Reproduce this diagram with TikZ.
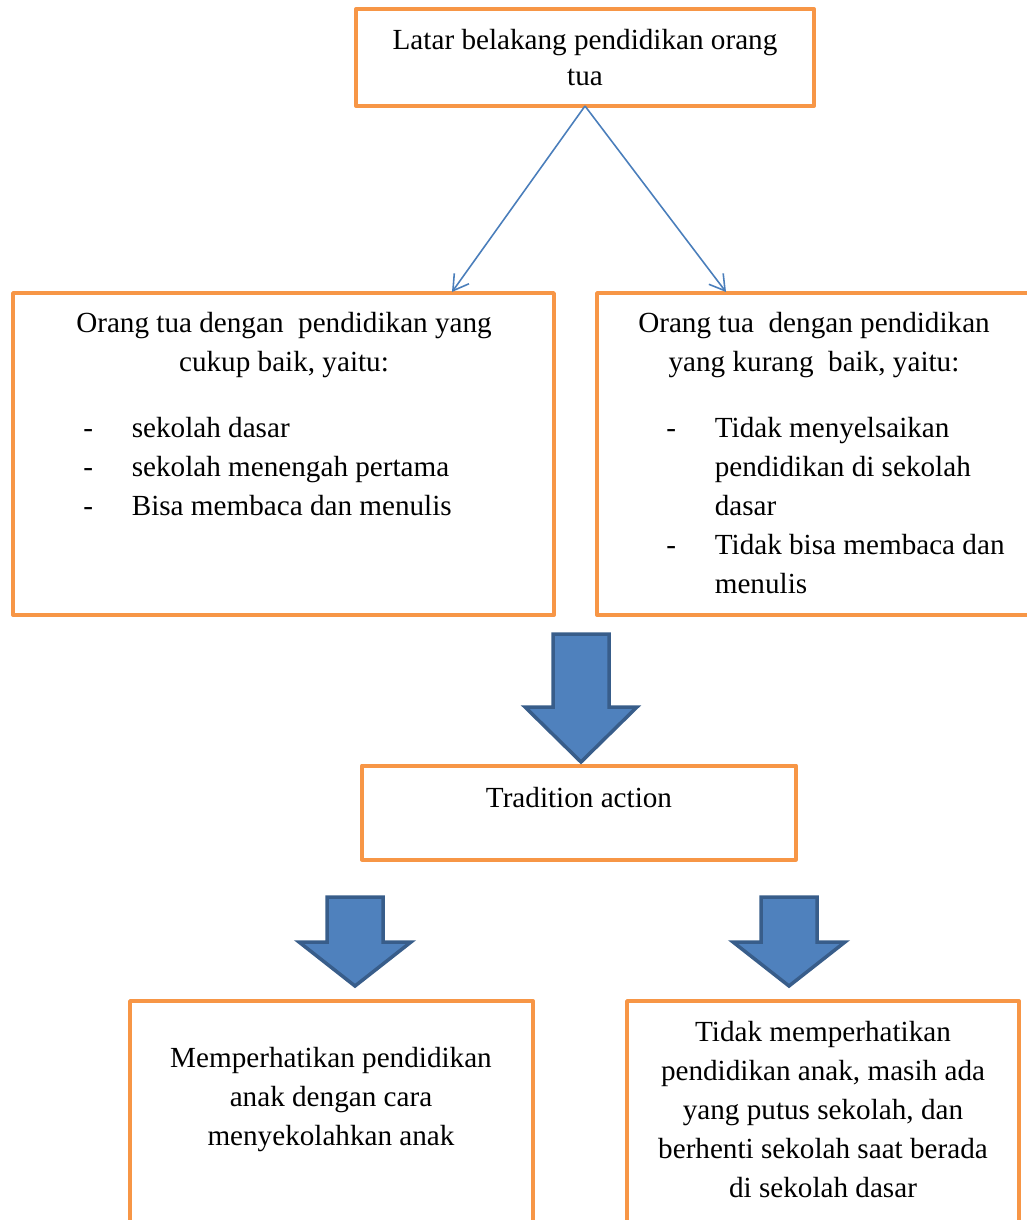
\documentclass[tikz,border=0pt]{standalone}
\usepackage{fontspec}
\setmainfont{Liberation Serif}
\usetikzlibrary{arrows.meta}

\definecolor{oranye}{HTML}{F79646}
\definecolor{biru}{HTML}{4A7EBB}
\definecolor{birublok}{HTML}{4F81BD}
\definecolor{birutepi}{HTML}{385D8A}

% block arrow: x centre, y top, y shoulder, y tip
\newcommand{\panahblok}[4]{%
  \draw[panah] (#1-28,#2) -- (#1+28,#2) -- (#1+28,#3) -- (#1+56,#3)
    -- (#1,#4) -- (#1-56,#3) -- (#1-28,#3) -- cycle;}

\begin{document}
\begin{tikzpicture}[
  x=0.02cm, y=-0.02cm,
  kotak/.style={draw=oranye,line width=0.08cm,line join=round,inner sep=0pt,outer sep=0pt},
  teks/.style={inner sep=0pt,font=\fontsize{16.6}{22.2}\selectfont},
  garis/.style={draw=biru,line width=0.9pt,-{Straight Barb[length=3mm,width=3.6mm]}},
  panah/.style={draw=birutepi,fill=birublok,line width=0.07cm}
  ]
  \clip (0,0) rectangle (1027,1220);

  % boxes
  \node[kotak,minimum width=9.16cm,minimum height=1.94cm] (latar) at (585,57.5) {};
  \node[kotak,minimum width=10.82cm,minimum height=6.44cm] (baik) at (283.5,454) {};
  \node[kotak,minimum width=8.8cm,minimum height=6.44cm] (kurang) at (817,454) {};
  \node[kotak,minimum width=8.68cm,minimum height=1.88cm] (tradisi) at (579,812.5) {};
  \node[kotak,minimum width=8.06cm,minimum height=4.8cm] (perhatian) at (331.5,1121) {};
  \node[kotak,minimum width=7.84cm,minimum height=4.8cm] (abai) at (823,1121) {};

  % texts
  \node[teks,anchor=base] (latarteks) at (585,50) {\renewcommand\arraystretch{0.92}%
    \begin{tabular}[t]{@{}c@{}}Latar belakang pendidikan orang\\tua\end{tabular}};
  \node[teks,anchor=base] (baikjudul) at (284,332) {%
    \begin{tabular}[t]{@{}c@{}}Orang tua dengan\ \ pendidikan yang\\cukup baik, yaitu:\end{tabular}};
  \node[teks,anchor=base west] (baikdaftar) at (83,437) {%
    \begin{tabular}[t]{@{}p{0.97cm}@{}l@{}}
      -&sekolah dasar\\
      -&sekolah menengah pertama\\
      -&Bisa membaca dan menulis
    \end{tabular}};
  \node[teks,anchor=base] (kurangjudul) at (814,332) {%
    \begin{tabular}[t]{@{}c@{}}Orang tua\ \ dengan pendidikan\\yang kurang\ \ baik, yaitu:\end{tabular}};
  \node[teks,anchor=base west] (kurangdaftar) at (666,437) {%
    \begin{tabular}[t]{@{}p{0.97cm}@{}l@{}}
      -&Tidak menyelsaikan\\
      &pendidikan di sekolah\\
      &dasar\\
      -&Tidak bisa membaca dan\\
      &menulis
    \end{tabular}};
  \node[teks,anchor=base] (tradisiteks) at (579,807) {Tradition action};
  \node[teks,anchor=base] (perhatianteks) at (331,1067) {%
    \begin{tabular}[t]{@{}c@{}}Memperhatikan pendidikan\\anak dengan cara\\menyekolahkan anak\end{tabular}};
  \node[teks,anchor=base] (abaiteks) at (823,1041) {%
    \begin{tabular}[t]{@{}c@{}}Tidak memperhatikan\\pendidikan anak, masih ada\\yang putus sekolah, dan\\berhenti sekolah saat berada\\di sekolah dasar\end{tabular}};

  % thin arrows from the top box
  \coordinate (ujungkiri) at (452,292);
  \coordinate (ujungkanan) at (726,292);
  \draw[garis] (latar.south) -- (ujungkiri);
  \draw[garis] (latar.south) -- (ujungkanan);

  % block arrows
  \panahblok{581}{634}{707}{762}
  \panahblok{355}{897}{942}{986}
  \panahblok{789}{897}{942}{986}
\end{tikzpicture}
\end{document}
